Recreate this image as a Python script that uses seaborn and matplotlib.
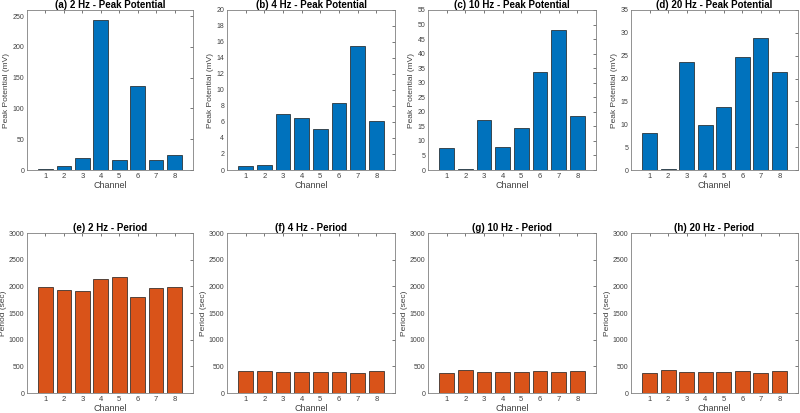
import numpy as np
import pandas as pd
import matplotlib
matplotlib.use("Agg")
import matplotlib.pyplot as plt
import seaborn as sns

channels = [1, 2, 3, 4, 5, 6, 7, 8]

peak_2hz = [1.5, 7, 19, 244, 16, 136, 16, 24]
peak_4hz = [0.46, 0.58, 6.96, 6.46, 5.17, 8.42, 15.46, 6.12]
peak_10hz = [7.7, 0.5, 17.3, 7.9, 14.4, 33.7, 48.1, 18.7]
peak_20hz = [8.1, 0.3, 23.6, 9.8, 13.7, 24.65, 28.96, 21.4]

period_2hz = [1994, 1937, 1912, 2137, 2169, 1800, 1962, 1994]
period_4hz = [406, 419, 394, 388, 394, 394, 369, 406]
period_10hz = [375, 431, 394, 388, 394, 406, 388, 406]
period_20hz = [369, 431, 394, 394, 394, 412, 381, 406]

peak_titles = ["(a) 2 Hz - Peak Potential", "(b) 4 Hz - Peak Potential",
               "(c) 10 Hz - Peak Potential", "(d) 20 Hz - Peak Potential"]
period_titles = ["(e) 2 Hz - Period", "(f) 4 Hz - Period",
                 "(g) 10 Hz - Period", "(h) 20 Hz - Period"]
peak_ymax = [260, 20, 55, 35]
peak_ystep = [50, 2, 5, 5]

blue = "#0072BD"
orange = "#D95319"
grey = "#404040"

sns.set_style("white")
plt.rcParams['font.family'] = ['Liberation Sans', 'DejaVu Sans']
plt.rcParams['axes.edgecolor'] = grey
plt.rcParams['xtick.color'] = grey
plt.rcParams['ytick.color'] = grey
plt.rcParams['axes.labelcolor'] = grey

fig = plt.figure(figsize=(8, 4.13), dpi=100)
lefts = [27, 227, 428, 631]
widths = [166, 168, 168, 167]


def draw(ax, vals, color, title, ylabel, ymax, ystep):
    df = pd.DataFrame({"Channel": channels, "val": vals})
    sns.barplot(data=df, x="Channel", y="val", native_scale=True, color=color,
                saturation=1, width=0.8, edgecolor="#1a1a1a", linewidth=0.5, ax=ax)
    ax.set_xlim(0, 9)
    ax.set_ylim(0, ymax)
    ax.set_xticks(channels)
    ax.set_yticks(np.arange(0, ymax + 0.001, ystep))
    ax.set_title(title, fontsize=7, fontweight="bold", color="black", pad=1.5)
    ax.set_xlabel("Channel", fontsize=6.5, labelpad=1)
    ax.set_ylabel(ylabel, fontsize=6, labelpad=1.5)
    ax.tick_params(direction="in", length=2, width=0.5, top=True, right=True, pad=2)
    ax.tick_params(axis="x", labelsize=5.5)
    ax.tick_params(axis="y", labelsize=5)
    for s in ax.spines.values():
        s.set_linewidth(0.6)
        s.set_color("#808080")


peaks = [peak_2hz, peak_4hz, peak_10hz, peak_20hz]
periods = [period_2hz, period_4hz, period_10hz, period_20hz]

for i in range(4):
    ax = fig.add_axes([lefts[i] / 800, 1 - 170 / 413, widths[i] / 800, 160 / 413])
    draw(ax, peaks[i], blue, peak_titles[i], "Peak Potential (mV)",
         peak_ymax[i], peak_ystep[i])

for i in range(4):
    ax = fig.add_axes([lefts[i] / 800, 1 - 393 / 413, widths[i] / 800, 160 / 413])
    draw(ax, periods[i], orange, period_titles[i], "Period (sec)", 3000, 500)

fig.savefig("out.png", dpi=100)
